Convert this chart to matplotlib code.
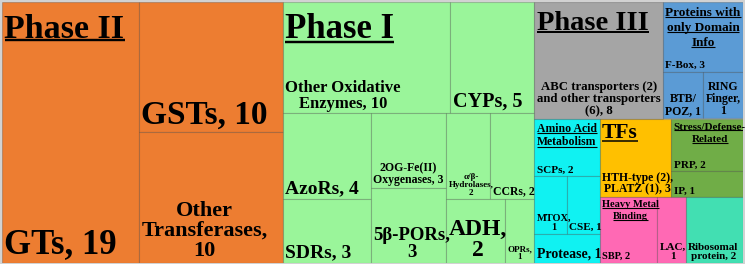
import matplotlib
matplotlib.use('Agg')
import matplotlib.pyplot as plt
from matplotlib.patches import Rectangle

plt.rcParams['font.family'] = ['Liberation Serif', 'DejaVu Serif']
plt.rcParams['font.weight'] = 'bold'

# ---- data -------------------------------------------------------------
groups = ['Phase II', 'Phase I', 'Phase III', 'Proteins with only Domain Info',
          'Amino Acid Metabolism', 'TFs', 'Stress/Defense-Related',
          'Heavy Metal Binding', 'Ribosomal protein']

phase2_labels = ['GTs, {v}', 'GSTs, {v}', 'Other\nTransferases,\n{v}']
phase2_values = [19, 10, 10]

phase1_labels = ['Other Oxidative\nEnzymes, {v}', 'CYPs, {v}', 'AzoRs, {v}', 'SDRs, {v}',
                 '2OG-Fe(II)\nOxygenases, {v}', '5β-PORs,\n{v}', 'α/β-\nHydrolases,\n{v}',
                 'CCRs, {v}', 'ADH,\n{v}', 'OPRs,\n{v}']
phase1_values = [10, 5, 4, 3, 3, 3, 2, 2, 2, 1]

phase3_labels = ['ABC transporters (2)\nand other transporters\n(6), {v}']
phase3_values = [8]

domain_labels = ['F-Box, {v}', 'BTB/\nPOZ, {v}', 'RING\nFinger,\n{v}']
domain_values = [3, 1, 1]

amino_labels = ['SCPs, {v}', 'MTOX,\n{v}', 'CSE, {v}', 'Protease, {v}']
amino_values = [2, 1, 1, 1]

tf_labels = ['HTH-type (2),\nPLATZ (1), {v}']
tf_values = [3]

stress_labels = ['PRP, {v}', 'IP, {v}']
stress_values = [2, 1]

metal_labels = ['SBP, {v}', 'LAC,\n{v}']
metal_values = [2, 1]

ribo_labels = ['Ribosomal\nprotein, {v}']
ribo_values = [2]

# ---- style / layout spec ---------------------------------------------
group_colors = ['#ED7D31', '#9AF59A', '#A5A5A5', '#5B9BD5', '#10F2F2',
                '#FFC000', '#70AD47', '#FF69B4', '#42DFB2']
group_headers = ['Phase II', 'Phase I', 'Phase III', 'Proteins with\nonly Domain\nInfo',
                 'Amino Acid\nMetabolism', 'TFs', 'Stress/Defense-\nRelated',
                 'Heavy Metal\nBinding', None]
header_sizes = [24.5, 25, 20.5, 9.5, 8.5, 15.5, 8, 7.5, 8]
header_pads = [12, 12, 9, 5, 4, 5, 4, 3, 4]

leaf_labels = [phase2_labels, phase1_labels, phase3_labels, domain_labels, amino_labels,
               tf_labels, stress_labels, metal_labels, ribo_labels]
leaf_values = [phase2_values, phase1_values, phase3_values, domain_values, amino_values,
               tf_values, stress_values, metal_values, ribo_values]
leaf_sizes = [[25, 24, 16],
              [12, 14.5, 14, 14, 8.5, 13.5, 6.5, 8.5, 17, 6.5],
              [9.2],
              [8, 8.5, 8.5],
              [8, 7.5, 8, 10],
              [8.5],
              [8, 8],
              [7.5, 8],
              [8]]

# how many items go into each strip of the squarified layout
top_strips = [1, 1, 2, 1, 2, 1, 1]
leaf_strips = [[1, 1, 1], [2, 2, 2, 2, 1, 1], [1], [1, 1, 1], [1, 2, 1], [1], [1, 1], [1, 1], [1]]


def strip_layout(values, x, y, w, h, counts):
    rects = []
    i = 0
    for n in counts:
        part = values[i:i + n]
        frac = sum(part) / sum(values[i:])
        if w <= h:
            sh = h * frac
            cx = x
            for v in part:
                cw = w * v / sum(part)
                rects.append((cx, y, cw, sh))
                cx += cw
            y += sh
            h -= sh
        else:
            sw = w * frac
            cy = y
            for v in part:
                ch = h * v / sum(part)
                rects.append((x, cy, sw, ch))
                cy += ch
            x += sw
            w -= sw
        i += n
    return rects


W, H = 741, 261
fig = plt.figure(figsize=(7.45, 2.64), dpi=100, facecolor='#d2d2d2')
ax = fig.add_axes([2 / 745, 1.5 / 264, W / 745, H / 264])
ax.set_xlim(0, W)
ax.set_ylim(H, 0)
ax.axis('off')

group_totals = [sum(v) for v in leaf_values]
group_rects = strip_layout(group_totals, 0, 0, W, H, top_strips)

fig.canvas.draw()
renderer = fig.canvas.get_renderer()
to_data = ax.transData.inverted()


def draw_header(text, x0, y0, size):
    lines = text.split('\n')
    px = size * 100 / 72
    pitch = px * 1.15
    objs = []
    for k, line in enumerate(lines):
        t = ax.text(x0, y0 + k * pitch, line, fontsize=size, fontweight='bold',
                    ha='left', va='top')
        objs.append(t)
    widths = [t.get_window_extent(renderer).width for t in objs]
    block = max(widths)
    for t, wd in zip(objs, widths):
        t.set_x(x0 + (block - wd) / 2)
        bb = t.get_window_extent(renderer)
        (xa, yb), (xb, _) = to_data.transform([(bb.x0, bb.y0), (bb.x1, bb.y0)])
        uy = yb - px * 0.13
        ax.plot([xa, xb], [uy, uy], color='black', lw=max(0.8, size * 0.07),
                solid_capstyle='butt')


for g, (gx, gy, gw, gh) in enumerate(group_rects):
    vals = leaf_values[g]
    rects = strip_layout(vals, gx, gy, gw, gh, leaf_strips[g])
    for (x, y, w, h), lab, v, fs in zip(rects, leaf_labels[g], vals, leaf_sizes[g]):
        ax.add_patch(Rectangle((x, y), w, h, facecolor=group_colors[g],
                               edgecolor=(0, 0, 0, 0.18), lw=0.8))
        ax.text(x + 2.5, y + h - 1.5, lab.format(v=v), fontsize=fs, fontweight='bold',
                ha='left', va='bottom', multialignment='center', linespacing=1.0)
    if group_headers[g]:
        draw_header(group_headers[g], gx + 2.5, gy + header_pads[g], header_sizes[g])

fig.savefig('out.png', dpi=100, facecolor=fig.get_facecolor())
